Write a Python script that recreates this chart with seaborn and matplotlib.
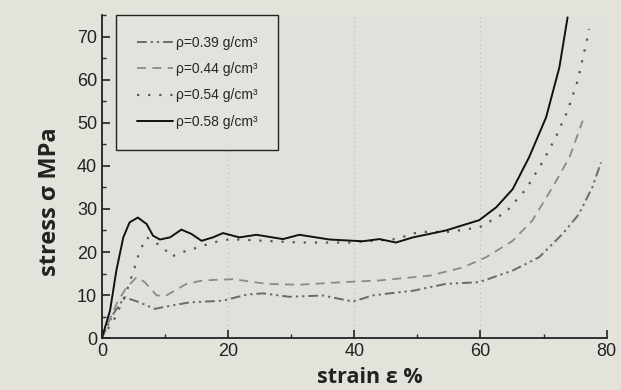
import numpy as np
import pandas as pd
import seaborn as sns
import matplotlib.pyplot as plt
from matplotlib.ticker import MultipleLocator

# strain (%) / stress (MPa)
strain_039 = [0, 1.8, 3.6, 6.0, 8.4, 10.8, 13.9, 19.2, 22.9, 25.5, 29.7, 35.0, 39.8, 42.9, 45.6,
              49.3, 54.5, 59.8, 65.1, 69.3, 73.0, 75.6, 77.7, 79.1]
stress_039 = [0, 5.6, 9.5, 8.3, 6.8, 7.5, 8.3, 8.7, 10.1, 10.4, 9.6, 9.9, 8.5, 9.9, 10.4,
              11.0, 12.6, 13.0, 15.7, 18.8, 24.2, 28.8, 35.0, 40.8]

strain_044 = [0, 2.3, 3.9, 5.5, 6.8, 8.7, 10.2, 13.4, 16.0, 20.8, 26.1, 31.3, 38.2, 44.0,
              51.9, 57.2, 60.9, 65.1, 68.2, 71.4, 74.1, 76.2]
stress_044 = [0, 7.9, 11.8, 14.1, 13.0, 9.9, 9.9, 12.6, 13.4, 13.7, 12.6, 12.4, 13.0, 13.4,
              14.5, 16.4, 18.8, 22.6, 27.3, 35.0, 42.0, 50.5]

strain_054 = [0, 2.0, 3.6, 5.2, 5.7, 6.3, 7.1, 9.7, 11.0, 12.6, 15.5, 17.6, 20.3, 31.3, 36.1,
              39.2, 46.6, 50.3, 54.5, 59.8, 64.0, 67.2, 69.8, 71.9, 73.8, 75.4, 76.9, 77.2]
stress_054 = [0, 4.5, 9.5, 16.4, 18.8, 21.1, 23.4, 21.1, 18.9, 19.9, 21.2, 22.2, 23.0, 22.2, 22.2,
              22.2, 23.0, 24.7, 24.6, 25.7, 29.2, 34.6, 40.8, 46.6, 52.8, 59.8, 69.5, 71.8]

strain_058 = [0, 1.3, 2.3, 3.4, 4.4, 5.7, 7.1, 8.1, 9.2, 10.8, 12.6, 14.2, 15.8, 17.6, 19.2,
              21.8, 24.5, 28.7, 31.3, 36.1, 41.3, 44.0, 46.6, 49.3, 54.5, 59.8, 62.5, 65.1,
              67.7, 70.4, 72.5, 73.8]
stress_058 = [0, 6.4, 15.7, 23.4, 26.9, 28.0, 26.5, 23.8, 22.9, 23.4, 25.2, 24.2, 22.6, 23.4, 24.4,
              23.4, 24.0, 23.0, 24.0, 22.9, 22.5, 23.0, 22.2, 23.4, 25.0, 27.4, 30.4, 34.6,
              42.0, 51.3, 62.9, 74.5]

labels = ['ρ=0.39 g/cm³', 'ρ=0.44 g/cm³', 'ρ=0.54 g/cm³', 'ρ=0.58 g/cm³']

series = [
    (strain_039, stress_039, labels[0], '#6a6a6a', (0, (5, 2, 1.2, 2, 1.2, 2)), 1.4),
    (strain_044, stress_044, labels[1], '#8a8a8a', (0, (5, 3.5)), 1.3),
    (strain_054, stress_054, labels[2], '#555555', (0, (1, 4)), 1.6),
    (strain_058, stress_058, labels[3], '#111111', '-', 1.4),
]

sns.set_style('ticks')
plt.rcParams['font.family'] = ['Liberation Sans', 'DejaVu Sans']

fig = plt.figure(figsize=(6.21, 3.9), dpi=100, facecolor='#e4e3db')
ax = fig.add_axes([0.164, 0.133, 0.813, 0.828])
ax.set_facecolor('#dfe1dc')

for x, y, lab, col, ls, lw in series:
    df = pd.DataFrame({'strain': x, 'stress': y})
    sns.lineplot(data=df, x='strain', y='stress', sort=False, color=col,
                 linestyle=ls, linewidth=lw, label=lab, ax=ax)

ax.set_xlim(0, 80)
ax.set_ylim(0, 75)
ax.xaxis.set_major_locator(MultipleLocator(20))
ax.xaxis.set_minor_locator(MultipleLocator(10))
ax.yaxis.set_major_locator(MultipleLocator(10))
ax.yaxis.set_minor_locator(MultipleLocator(5))
ax.tick_params(which='major', direction='in', length=6, width=1.2, labelsize=13,
               colors='#222222')
ax.tick_params(which='minor', direction='in', length=3, width=1.0)
ax.grid(axis='x', which='major', color='#bcbcb6', linestyle=(0, (1, 3)), linewidth=0.8)
for s in ['top', 'right']:
    ax.spines[s].set_visible(False)
for s in ['left', 'bottom']:
    ax.spines[s].set_linewidth(1.3)
    ax.spines[s].set_color('#222222')

ax.set_xlabel('strain ε %', family=['Open Sans', 'DejaVu Sans'], fontweight='bold',
              fontsize=15.5, color='#222222', va='center', ha='center')
ax.set_ylabel('stress σ MPa', family=['Open Sans', 'DejaVu Sans'], fontweight='bold',
              fontsize=17, color='#222222', va='center', ha='center')
ax.xaxis.set_label_coords(0.531, -0.122)
ax.yaxis.set_label_coords(-0.103, 0.424)

leg = ax.legend(loc='upper left', bbox_to_anchor=(0.028, 1.0), borderaxespad=0,
                fontsize=10, frameon=True, fancybox=False, handlelength=2.6,
                handletextpad=0.2, labelspacing=0.88, borderpad=1.5)
leg.get_frame().set_edgecolor('#222222')
leg.get_frame().set_linewidth(1.0)
leg.get_frame().set_facecolor('#e2e3de')
leg.get_frame().set_alpha(1)

fig.savefig('out.png', dpi=100, facecolor=fig.get_facecolor())
